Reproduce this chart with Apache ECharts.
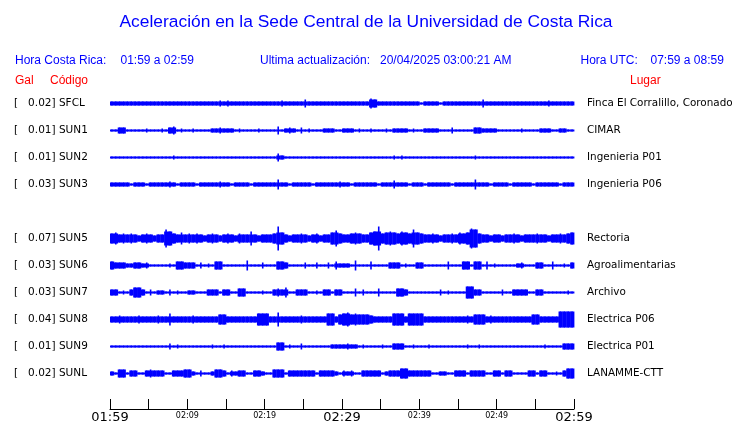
<!DOCTYPE html>
<html>
<head>
<meta charset="utf-8">
<script src="https://cdn.jsdelivr.net/npm/echarts@6/dist/echarts.min.js"></script>
<style>
  html, body { margin: 0; padding: 0; background: #fff; }
  #chart { width: 740px; height: 423px; }
</style>
</head>
<body>
<div id="chart"></div>
<script>
// Rows of the plot, top to bottom (row 4 is left empty)
const codes = ['SFCL', 'SUN1', 'SUN2', 'SUN3', '', 'SUN5', 'SUN6', 'SUN7', 'SUN8', 'SUN9', 'SUNL']
const gals = ['0.02', '0.01', '0.01', '0.03', '', '0.07', '0.03', '0.03', '0.04', '0.01', '0.02']
const places = ['Finca El Corralillo, Coronado', 'CIMAR', 'Ingenieria P01', 'Ingenieria P06', '',
  'Rectoria', 'Agroalimentarias', 'Archivo', 'Electrica P06', 'Electrica P01', 'LANAMME-CTT']

// Time axis (minutes after 01:59)
const tickLabels = ['01:59', '02:09', '02:19', '02:29', '02:39', '02:49', '02:59']
const bigTicks = ['01:59', '02:29', '02:59']

// Envelope of each trace, one value per 30 s (half amplitude, relative units)
const sfcl = [
  2,2,2,2,2,2,2,2,2,2,2,2,2,2,2,2,2,2,2,2,
  2,2,2,2,2,2,2,2,3,2,3,2,2,2,2,2,2,2,2,2,
  2,2,2,2,3,2,2,2,2,2,4,2,2,2,2,2,2,2,2,2,
  2,2,2,2,2,2,2,5,4,2,2,2,2,2,2,2,2,2,2,2,
  1,2,2,2,2,1,2,2,2,2,2,2,2,2,2,2,4,2,2,2,
  2,2,2,2,2,2,2,2,2,2,2,2,2,3,2,2,2,2,2,2
]
const sun1 = [
  1,1,3,3,1,1,1,1,1,2,1,1,1,2,1,3,4,1,2,1,
  1,2,1,1,1,1,2,2,3,2,2,2,1,2,1,1,1,1,2,1,
  1,1,1,4,1,2,3,2,1,3,1,2,1,1,1,2,2,2,1,1,
  2,2,2,1,2,1,1,2,1,1,1,2,1,2,2,2,2,1,2,1,
  1,2,2,2,2,1,1,1,3,1,1,1,1,1,3,3,2,2,2,2,
  1,1,1,1,1,1,2,1,1,1,1,2,2,2,1,1,2,2,1,1
]
const sun2 = [
  1,1,1,1,1,1,1,1,1,1,1,1,1,1,1,1,2,1,1,1,
  1,1,1,1,1,1,1,1,1,1,1,1,1,1,1,1,1,1,1,1,
  1,1,1,4,2,1,1,1,1,1,1,1,1,1,1,1,1,1,1,1,
  1,1,1,1,1,1,1,1,1,1,1,1,1,2,1,2,1,1,1,1,
  1,1,1,1,1,1,1,1,1,1,1,1,1,1,2,1,1,1,1,1,
  1,1,1,1,1,1,1,1,1,1,1,1,1,1,1,1,1,1,1,1
]
const sun3 = [
  2,2,2,2,2,1,2,2,2,1,2,2,2,2,2,3,2,1,2,2,
  2,2,1,2,2,2,2,2,3,2,2,1,2,2,2,2,1,2,2,2,
  2,2,2,5,2,2,1,2,2,2,2,2,1,2,2,2,2,2,2,3,
  2,2,1,2,2,2,2,2,2,1,2,2,2,4,2,2,2,1,2,2,
  2,1,2,2,2,2,2,2,1,2,2,2,2,2,5,2,2,2,1,2,
  2,2,2,1,2,2,2,2,2,1,2,2,2,2,2,2,1,2,2,2
]
const sun5 = [
  5,6,4,5,4,5,4,3,4,5,4,3,4,4,9,7,5,4,6,4,
  5,4,5,4,3,4,5,4,3,4,5,4,3,5,4,4,7,4,3,4,
  4,4,5,12,6,4,3,4,4,5,4,3,4,5,3,4,4,6,8,5,
  4,4,5,6,5,4,4,6,7,12,5,6,7,6,5,7,6,5,9,6,
  5,4,4,5,4,3,4,4,5,4,6,5,6,10,9,5,4,4,3,4,
  4,3,4,4,5,4,3,4,4,4,5,4,4,3,4,4,5,4,5,6
]
const sun6 = [
  4,3,3,3,2,2,3,3,2,3,1,1,1,1,1,2,1,4,4,3,
  3,3,1,3,1,2,1,4,4,1,1,1,1,1,1,5,1,1,1,3,
  1,1,1,4,4,3,1,1,1,1,3,1,1,3,1,1,3,1,4,2,
  2,2,1,5,1,1,1,4,1,1,1,1,3,3,3,1,2,1,1,3,
  3,1,1,1,1,1,1,4,1,1,1,4,4,1,4,4,1,4,1,2,
  1,1,1,1,1,2,3,1,1,1,3,3,1,1,4,1,1,2,1,3
]
const sun7 = [
  3,3,1,2,1,3,5,5,3,1,3,1,2,2,1,3,1,2,1,1,
  2,2,1,1,1,3,3,3,1,3,3,1,1,4,4,1,1,1,1,2,
  1,1,3,4,3,5,1,1,3,3,3,1,1,2,1,3,3,1,3,3,
  1,1,1,4,1,3,1,1,1,4,1,1,1,1,4,4,3,1,1,1,
  1,1,1,1,1,3,1,2,1,1,1,1,6,6,3,3,1,1,1,1,
  1,3,1,1,3,3,3,3,1,1,3,3,1,1,1,1,1,1,2,1
]
const sun8 = [
  3,3,4,3,3,3,3,4,3,3,3,3,4,3,3,6,3,3,3,3,
  3,4,3,3,3,3,3,3,5,5,3,3,3,3,3,3,3,3,6,6,
  6,3,3,7,3,3,3,3,3,4,3,3,3,3,3,3,6,6,3,5,
  6,7,5,6,5,5,5,4,3,3,3,3,3,6,6,6,3,6,6,6,
  6,3,3,3,3,3,3,3,3,3,3,3,4,3,5,5,5,3,4,3,
  3,3,3,3,3,3,3,3,3,5,5,3,3,3,3,3,8,8,8,8
]
const sun9 = [
  1,1,1,1,1,1,1,1,1,1,1,1,1,1,1,3,1,2,1,1,
  1,1,1,1,1,1,2,1,1,2,1,1,1,1,1,1,1,1,1,1,
  1,1,1,4,4,1,2,1,1,3,1,1,1,1,1,1,1,2,2,2,
  2,3,2,2,1,2,1,1,1,1,2,1,1,3,3,3,1,1,2,1,
  1,1,2,1,1,1,1,1,1,1,1,1,2,1,1,2,1,1,1,1,
  1,1,1,1,1,1,1,1,1,1,1,1,2,1,1,1,1,3,3,3
]
const sunl = [
  2,1,4,4,1,3,3,1,1,3,4,3,3,3,1,1,3,3,3,4,
  4,2,1,3,1,1,2,4,4,3,1,3,2,3,3,1,1,3,3,2,
  1,1,4,4,4,1,3,3,3,3,3,3,3,1,3,3,3,3,2,1,
  3,2,3,1,1,3,3,3,3,3,1,2,3,3,3,5,5,3,3,3,
  3,3,3,1,1,2,2,1,1,3,3,3,1,3,3,3,3,1,1,3,
  3,1,3,3,1,1,1,1,3,3,1,3,3,1,1,2,1,3,5,5
]
const traces = [sfcl, sun1, sun2, sun3, null, sun5, sun6, sun7, sun8, sun9, sunl]

const STEP = 0.5        // minutes per envelope value
const FULL_ROW = 27     // envelope units that span one row

const blue = '#0000ff'
const red = '#ff0000'
const headFont = '12px "Liberation Sans", Arial, sans-serif'

// [time, row, amp, ampBefore, ampAfter]
const traceData = []
traces.forEach((tr, row) => {
  if (!tr) return
  tr.forEach((a, i) => {
    const prev = i > 0 ? tr[i - 1] : a
    const next = i < tr.length - 1 ? tr[i + 1] : a
    traceData.push([i * STEP, row, a, prev, next])
  })
})

const chart = echarts.init(document.getElementById('chart'))

const label = (x, y, text, color) => ({
  type: 'text', x, y,
  style: { text, fill: color, font: headFont, verticalAlign: 'middle' }
})

chart.setOption({
  animation: false,
  backgroundColor: '#fff',
  graphic: [
    { type: 'text', x: 366, y: 22, style: { text: 'Aceleración en la Sede Central de la Universidad de Costa Rica', fill: blue, font: '17.4px "Liberation Sans", Arial, sans-serif', align: 'center', verticalAlign: 'middle' } },
    label(15, 61, 'Hora Costa Rica:', blue),
    label(120.5, 61, '01:59 a 02:59', blue),
    label(260, 61, 'Ultima actualización:', blue),
    label(380, 61, '20/04/2025 03:00:21 AM', blue),
    label(580.5, 61, 'Hora UTC:', blue),
    label(650.5, 61, '07:59 a 08:59', blue),
    label(15, 81, 'Gal', red),
    label(50, 81, 'Código', red),
    label(630, 81, 'Lugar', red)
  ],
  grid: { left: 110, right: 166, top: 90, height: 297, outerBoundsMode: 'none', containLabel: false },
  xAxis: {
    type: 'value',
    min: 0,
    max: 60,
    interval: 5,
    offset: 22,
    axisLine: { show: true, onZero: false, lineStyle: { color: '#000', width: 1 } },
    axisTick: { show: true, inside: true, length: 10, lineStyle: { color: '#000', width: 1 } },
    splitLine: { show: false },
    axisLabel: {
      margin: 2,
      showMinLabel: true,
      showMaxLabel: true,
      verticalAlign: 'top',
      formatter: (v) => {
        if (v % 10 !== 0) return ''
        const t = tickLabels[v / 10]
        return bigTicks.includes(t) ? `{big|${t}}` : `{small|${t}}`
      },
      rich: {
        big: { fontSize: 13, fontFamily: 'DejaVu Sans', color: '#000', verticalAlign: 'top' },
        small: { fontSize: 8, fontFamily: 'DejaVu Sans', color: '#000', verticalAlign: 'top', padding: [1, 0, 0, 0] }
      }
    }
  },
  yAxis: [
    {
      type: 'category',
      inverse: true,
      data: codes,
      axisLine: { show: false },
      axisTick: { show: false },
      axisLabel: {
        interval: 0,
        align: 'left',
        margin: 96,
        color: '#000',
        fontSize: 10.5,
        fontFamily: 'DejaVu Sans',
        formatter: (v, i) => v ? `[   ${gals[i]}] ${v}` : ''
      }
    },
    {
      type: 'category',
      inverse: true,
      position: 'right',
      data: places,
      axisLine: { show: false },
      axisTick: { show: false },
      axisLabel: {
        interval: 0,
        align: 'left',
        margin: 13,
        color: '#000',
        fontSize: 10.4,
        fontFamily: 'DejaVu Sans'
      }
    }
  ],
  series: [{
    type: 'custom',
    data: traceData,
    clip: false,
    renderItem: (params, api) => {
      const c = api.coord([api.value(0), api.value(1)])
      const size = api.size([STEP, 1])
      const unit = size[1] / FULL_ROW
      const a = api.value(2)
      const body = Math.min(a, Math.max(api.value(3), api.value(4)))
      const w = size[0] + 0.4
      return {
        type: 'group',
        children: [
          { type: 'rect', shape: { x: c[0], y: c[1] - body * unit, width: w, height: body * unit * 2 }, style: { fill: blue } },
          { type: 'rect', shape: { x: c[0] + size[0] / 2 - 0.8, y: c[1] - a * unit, width: 1.6, height: a * unit * 2 }, style: { fill: blue } }
        ]
      }
    }
  }]
})
</script>
</body>
</html>
